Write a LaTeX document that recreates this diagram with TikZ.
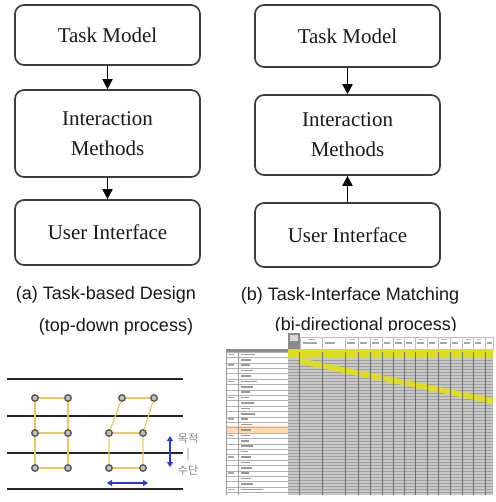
\documentclass[tikz,border=0pt]{standalone}
\usepackage{fontspec}
\setmainfont{Liberation Serif}
\setsansfont{Liberation Sans}
\newfontfamily\krfont{Noto Sans CJK KR}
\usetikzlibrary{arrows.meta}
\definecolor{boxline}{RGB}{60,60,60}
\definecolor{txt}{RGB}{25,25,25}
\definecolor{hlyellow}{RGB}{222,222,30}
\definecolor{linkyellow}{RGB}{240,200,90}
\definecolor{arrblue}{RGB}{40,60,220}
\definecolor{sheetgray}{RGB}{200,200,200}
\definecolor{sheetline}{RGB}{160,160,160}
\definecolor{sheetdark}{RGB}{110,110,110}
\tikzset{
  stagebox/.style={draw=boxline, line width=1.7pt, rounded corners=9pt, minimum width=185pt,
    inner sep=0pt, align=center, text=txt, font=\fontsize{21}{30}\selectfont},
  flowarr/.style={line width=1.8pt, draw=black, -{Triangle[length=10pt,width=10pt]}},
  captxt/.style={font=\sffamily\fontsize{18}{22}\selectfont, text=txt, inner sep=0pt},
  level/.style={line width=2pt, black!85},
  dot/.style={circle, draw=black!65, fill=black!25, line width=1.4pt, minimum size=6.5pt, inner sep=0pt},
  link/.style={linkyellow, line width=1.2pt},
  bluearr/.style={arrblue, line width=1.6pt, {Triangle[length=5pt,width=6pt]}-{Triangle[length=5pt,width=6pt]}},
  krtxt/.style={font=\krfont\fontsize{11}{13}\selectfont, text=black!50, inner sep=0pt}
}
\begin{document}
\begin{tikzpicture}[x=1pt,y=-1pt]
\useasboundingbox (0,0) rectangle (495,502);
\fill[white] (0,0) rectangle (495,502);

% ---- (a) left column
\node[stagebox, minimum height=60pt] (A1) at (107.5,35) {Task Model};
\node[stagebox, minimum height=87pt] (A2) at (107.5,133.5) {Interaction\\Methods};
\node[stagebox, minimum height=65pt] (A3) at (107.5,232.5) {User Interface};
\draw[flowarr] (A1.south) -- (A2.north);
\draw[flowarr] (A2.south) -- (A3.north);
\node[captxt] (capA1) at (106,295) {(a) Task-based Design};
\node[captxt] (capA2) at (116,327) {(top-down process)};

% ---- (b) right column
\node[stagebox, minimum height=62pt] (B1) at (347.5,36) {Task Model};
\node[stagebox, minimum height=80pt] (B2) at (347.5,135) {Interaction\\Methods};
\node[stagebox, minimum height=64pt] (B3) at (347.5,235) {User Interface};
\draw[flowarr] (B1.south) -- (B2.north);
\draw[flowarr] (B3.north) -- (B2.south);
\node[captxt] (capB1) at (350,296) {(b) Task-Interface Matching};
\node[captxt] (capB2) at (366,326) {(bi-directional process)};

% ---- bottom left: levels
\foreach \y [count=\i] in {379,416,453,489} {
  \coordinate (L\i a) at (7,\y);
  \coordinate (L\i b) at (183,\y);
  \draw[level] (L\i a) -- (L\i b);
}
% group 1
\node[dot] (p11) at (35,398) {};  \node[dot] (p12) at (68,398) {};
\node[dot] (p21) at (35,433) {};  \node[dot] (p22) at (68,433) {};
\node[dot] (p31) at (35,468) {};  \node[dot] (p32) at (68,468) {};
% group 2
\node[dot] (q11) at (122,398) {}; \node[dot] (q12) at (154,398) {};
\node[dot] (q21) at (109,433) {}; \node[dot] (q22) at (143,433) {};
\node[dot] (q31) at (109,468) {}; \node[dot] (q32) at (143,468) {};
\draw[link] (p11) -- (p12) (p21) -- (p22) (p31) -- (p32);
\draw[link] (p11) -- (p21) -- (p31) (p12) -- (p22) -- (p32);
\draw[link] (q11) -- (q12) (q21) -- (q22) (q31) -- (q32);
\draw[link] (q11) -- (q21) -- (q31) (q12) -- (q22) -- (q32);
% blue arrows
\coordinate (vt) at (170,436);
\coordinate (vb) at (170,467);
\draw[bluearr] (vt) -- (vb);
\coordinate (hl) at (107,483);
\coordinate (hr) at (148,483);
\draw[bluearr] (hl) -- (hr);
\node[krtxt] (k1) at (188,438) {목적};
\node[krtxt] (k2) at (188,454) {|};
\node[krtxt] (k3) at (188,470) {수단};

% ---- bottom right: matching sheet
\fill[white] (225,331) rectangle (495,502);
% header
\fill[sheetdark!80] (288,333) rectangle (300,350);
\fill[black!15] (290,335) rectangle (298,341);
\foreach \x in {300,322,345,358,370,382,393,404,415,427,438,450,462,473,485,493}
  \draw[black!25, line width=0.5pt] (\x,337) -- (\x,350);
\draw[black!25, line width=0.5pt] (300,337) -- (493,337);
\foreach \x/\w in {303/14,325/10,347/8,360/7,372/7,384/6,395/7,406/6,417/7,429/6,440/7,452/6,464/6,475/6,487/5}
  \fill[black!35] (\x,342) rectangle ++(\w,1.5);
\foreach \x/\w in {309/6,350/5,374/4,396/5,419/4,441/6,466/5,477/4}
  \fill[black!30] (\x,338.5) rectangle ++(\w,1.2);
% left table
\fill[black!45] (226,349) rectangle (288,352);
\fill[orange!30] (226,426) rectangle (288,433);
\foreach \k in {0,...,26}
  \draw[black!30, line width=0.5pt] (226,352+5.4*\k) -- (288,352+5.4*\k);
\draw[black!40, line width=0.5pt] (226,350) -- (226,495) (238,350) -- (238,495) (288,350) -- (288,495);
\foreach \k/\w in {0/14,1/10,2/9,3/12,4/10,5/16,6/12,7/9,8/8,9/13,10/9,11/14,12/7,13/11,14/10,15/9,16/8,17/12,18/7,19/10,20/9,21/11,22/8,23/10,24/12,25/22}
  \fill[black!40] (241,353.5+5.4*\k) rectangle ++(\w,1.6);
\foreach \k in {0,2,5,8,12,15,19,22,25}
  \fill[black!35] (228,353.5+5.4*\k) rectangle ++(6,1.6);
% grid area
\fill[sheetgray] (288,358) rectangle (493,495);
\foreach \y in {360,363,...,494}
  \draw[sheetline, line width=0.4pt] (288,\y) -- (493,\y);
\fill[hlyellow] (288,349) rectangle (493,358);
\draw[hlyellow, line width=5.5pt] (300,361) -- (493,401);
\foreach \x in {299,322,345,358,370,382,393,404,415,427,438,450,462,473,485}
  \draw[sheetdark, line width=0.8pt] (\x,352) -- (\x,495);
\end{tikzpicture}
\end{document}
